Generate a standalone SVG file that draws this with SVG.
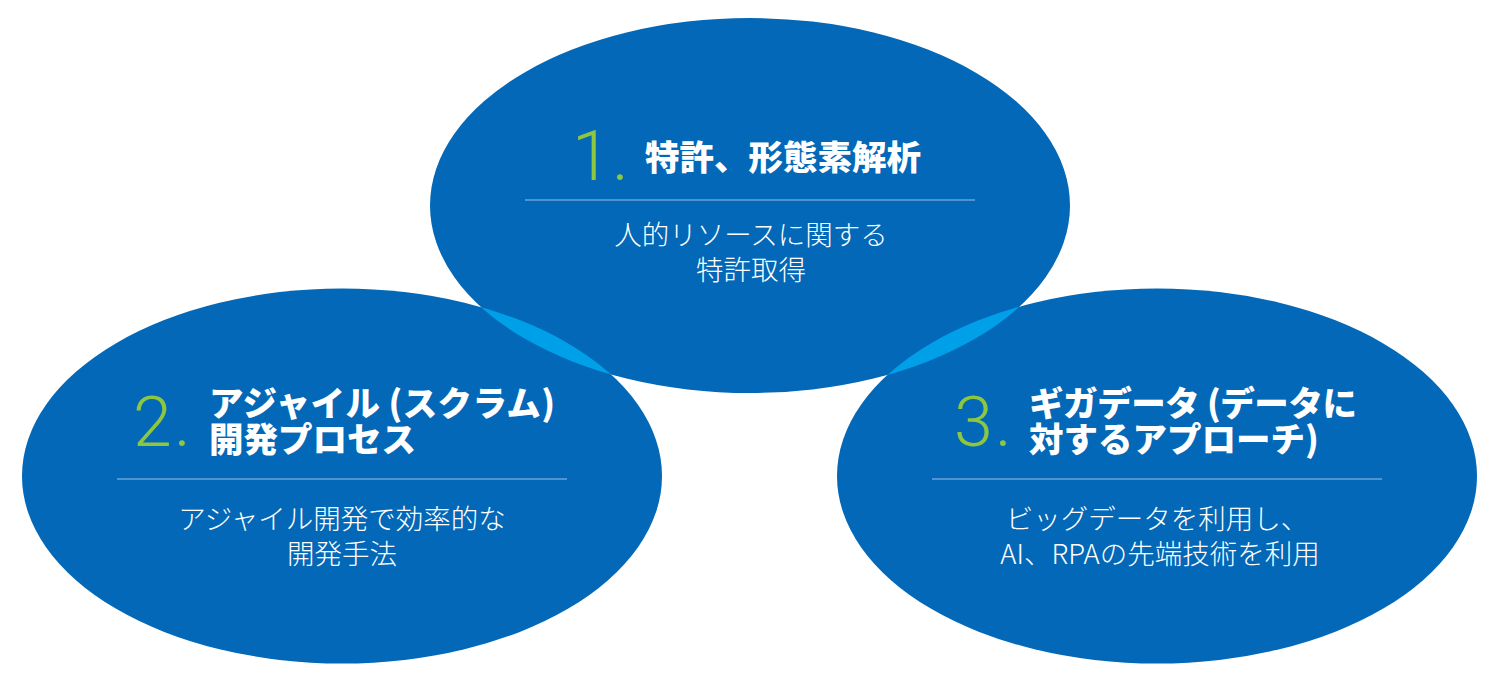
<svg xmlns="http://www.w3.org/2000/svg" width="1500" height="680" viewBox="0 0 1500 680">
  <style>
    .main { fill: #0268b7; }
    .lens { fill: #00a0e9; }
    .num { font-family: Roboto, "Liberation Sans", sans-serif; font-weight: 300; font-size: 70px; fill: #8dc63f; }
    .ttl { font-family: "Noto Sans CJK JP", "Noto Sans", sans-serif; font-weight: 900; font-size: 34.5px; fill: #ffffff; }
    .sub { font-family: "Noto Sans CJK JP", "Noto Sans", sans-serif; font-weight: 300; font-size: 27.5px; fill: #ffffff; text-anchor: middle; }
    .rule { stroke: #4f93d3; stroke-width: 2; fill: none; }
  </style>
  <defs>
    <clipPath id="clipTop">
      <ellipse cx="750" cy="205.5" rx="320" ry="187.5"/>
    </clipPath>
  </defs>
  <rect width="1500" height="680" fill="#ffffff"/>
  <g id="node-1-shape">
    <ellipse class="main" cx="750" cy="205.5" rx="320" ry="187.5"/>
  </g>
  <g id="node-2-shape">
    <ellipse class="main" cx="342" cy="476" rx="320" ry="187.5"/>
  </g>
  <g id="node-3-shape">
    <ellipse class="main" cx="1157" cy="476" rx="320" ry="187.5"/>
  </g>
  <g id="overlaps" clip-path="url(#clipTop)">
    <ellipse class="lens" cx="342" cy="476" rx="320" ry="187.5"/>
    <ellipse class="lens" cx="1157" cy="476" rx="320" ry="187.5"/>
  </g>
  <g id="node-1">
    <text class="num" x="572" y="180">1<tspan x="612">.</tspan></text>
    <text class="ttl" x="645" y="170">特許、形態素解析</text>
    <line class="rule" x1="525" y1="200" x2="975" y2="200"/>
    <text class="sub" x="751" y="245">人的リソースに関する</text>
    <text class="sub" x="751" y="280">特許取得</text>
  </g>
  <g id="node-2">
    <text class="num" x="133" y="446">2<tspan x="174">.</tspan></text>
    <text class="ttl" x="209" y="416" textLength="346" lengthAdjust="spacing">アジャイル (スクラム)</text>
    <text class="ttl" x="209" y="452">開発プロセス</text>
    <line class="rule" x1="117" y1="479" x2="567" y2="479"/>
    <text class="sub" x="342" y="529">アジャイル開発で効率的な</text>
    <text class="sub" x="342" y="564">開発手法</text>
  </g>
  <g id="node-3">
    <text class="num" x="954" y="446">3<tspan x="995">.</tspan></text>
    <text class="ttl" x="1029" y="416" textLength="328" lengthAdjust="spacing">ギガデータ (データに</text>
    <text class="ttl" x="1029" y="452">対するアプローチ)</text>
    <line class="rule" x1="932" y1="479" x2="1382" y2="479"/>
    <text class="sub" x="1157" y="529">ビッグデータを利用し、</text>
    <text class="sub" x="1160" y="564">AI、RPAの先端技術を利用</text>
  </g>
  <g id="connectors"></g>
</svg>
